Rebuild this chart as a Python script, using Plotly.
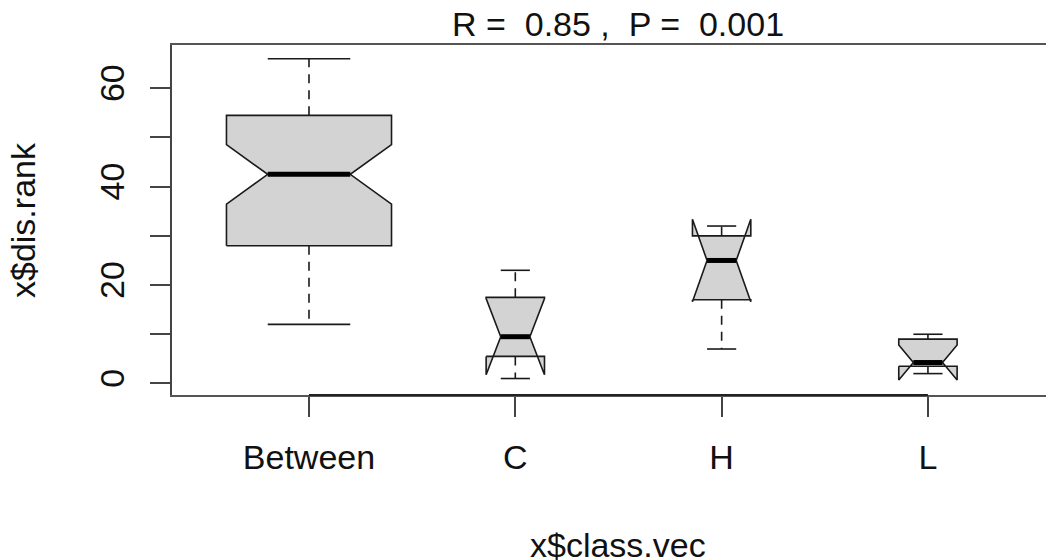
import numpy as np
import plotly.graph_objects as go

# ---- data ----
categories = ["Between", "C", "H", "L"]
group_n = [48, 6, 6, 6]
whisker_low = [12, 1, 7, 2]
q1 = [28, 5.5, 17, 3.5]
median = [42.5, 9.5, 25, 4.25]
q3 = [54.5, 17.5, 30, 9]
whisker_high = [66, 23, 32, 10]
title_text = "R =  0.85 ,  P =  0.001"
x_title = "x$class.vec"
y_title = "x$dis.rank"
y_ticks = [0, 10, 20, 30, 40, 50, 60]
y_tick_labels = ["0", "", "20", "", "40", "", "60"]

FONT = "Liberation Sans, Arial, Helvetica, sans-serif"
FS = 34

positions = np.arange(1, len(categories) + 1)
sq = np.sqrt(np.array(group_n, dtype=float))
half_w = 0.8 * sq / sq.max() / 2.0  # varwidth=TRUE, boxwex=0.8
iqr = np.array(q3) - np.array(q1)
notch_half = 1.58 * iqr / sq
conf_lo = np.array(median) - notch_half
conf_hi = np.array(median) + notch_half

fig = go.Figure()

for i, p in enumerate(positions):
    w = half_w[i]
    xs = [p - w, p + w, p + w, p + 0.5 * w, p + w, p + w, p - w, p - w, p - 0.5 * w, p - w, p - w]
    ys = [q1[i], q1[i], conf_lo[i], median[i], conf_hi[i], q3[i], q3[i], conf_hi[i], median[i], conf_lo[i], q1[i]]
    fig.add_trace(go.Scatter(x=xs, y=ys, mode="lines", fill="toself", fillcolor="#D3D3D3",
                             line=dict(color="#1a1a1a", width=1.6), hoverinfo="skip", showlegend=False))
    # median
    fig.add_trace(go.Scatter(x=[p - 0.5 * w, p + 0.5 * w], y=[median[i], median[i]], mode="lines",
                             line=dict(color="black", width=5), hoverinfo="skip", showlegend=False))
    # whiskers (dashed)
    fig.add_trace(go.Scatter(x=[p, p, None, p, p], y=[q1[i], whisker_low[i], None, q3[i], whisker_high[i]],
                             mode="lines", line=dict(color="#1a1a1a", width=1.6, dash="9px,7px"),
                             hoverinfo="skip", showlegend=False))
    # staples
    sw = 0.5 * w
    fig.add_trace(go.Scatter(x=[p - sw, p + sw, None, p - sw, p + sw],
                             y=[whisker_low[i], whisker_low[i], None, whisker_high[i], whisker_high[i]],
                             mode="lines", line=dict(color="#1a1a1a", width=1.6),
                             hoverinfo="skip", showlegend=False))

# axis line from first to last tick (R draws it over the frame)
fig.add_shape(type="line", xref="x", yref="paper", x0=positions[0], x1=positions[-1], y0=0, y1=0,
              line=dict(color="#222", width=2))

# page body has an 8px margin, so the figure is placed 8px right/down
fig.update_layout(
    width=1046, height=552,
    margin=dict(l=164, r=0, t=37, b=165, autoexpand=False),
    paper_bgcolor="white", plot_bgcolor="white",
    font=dict(family=FONT, size=FS, color="black"),
    xaxis=dict(range=[0.336, 4.611], tickmode="array", tickvals=positions.tolist(), ticktext=categories,
               ticks="outside", ticklen=20, tickwidth=1.5, tickcolor="#444", automargin=False,
               showline=True, mirror=True, linecolor="#555", linewidth=1.5,
               showgrid=False, zeroline=False, ticklabelstandoff=11,
               tickfont=dict(family=FONT, size=FS, color="#111")),
    yaxis=dict(range=[-2.35, 68.8], tickmode="array", tickvals=y_ticks, ticktext=y_tick_labels,
               tickangle=-90, ticks="outside", ticklen=20, tickwidth=1.5, tickcolor="#444", automargin=False,
               showline=True, mirror=False, linecolor="#444", linewidth=1.5,
               showgrid=False, zeroline=False, ticklabelstandoff=13,
               tickfont=dict(family=FONT, size=FS, color="#111")),
    annotations=[
        dict(text=title_text, xref="x", yref="paper", x=2.5, y=1, xanchor="center", yanchor="bottom",
             showarrow=False, yshift=0, font=dict(family=FONT, size=FS, color="#111")),
        dict(text=x_title, xref="x", yref="paper", x=2.5, y=0, xanchor="center", yanchor="top",
             showarrow=False, yshift=-129, font=dict(family=FONT, size=FS, color="#111")),
        dict(text=y_title, xref="paper", yref="paper", x=0, y=0.5, xanchor="right", yanchor="middle",
             textangle=-90, showarrow=False, xshift=-128, font=dict(family=FONT, size=FS, color="#111")),
    ],
)

fig.write_html("out.html")
